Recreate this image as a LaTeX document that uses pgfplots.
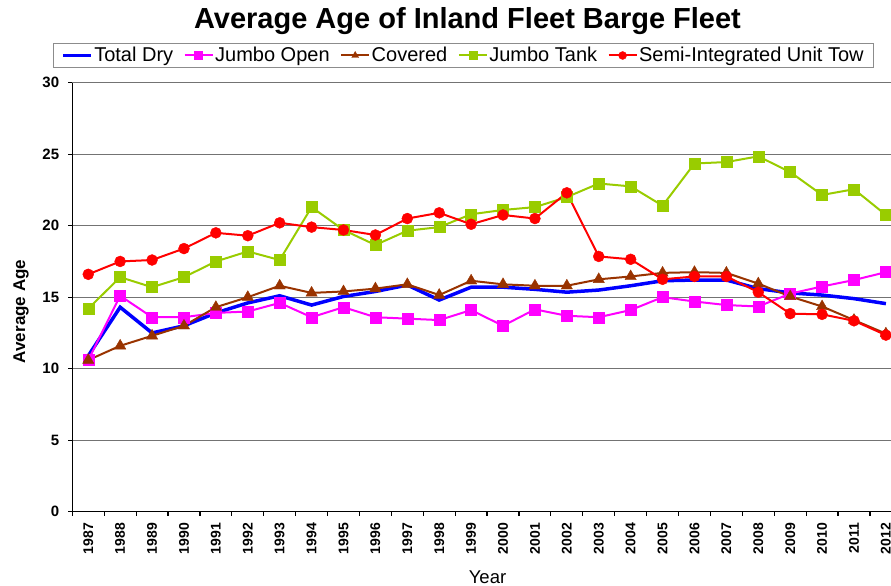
\documentclass[border=0pt]{standalone}
\usepackage{fontspec}
\setmainfont{Liberation Sans}
\usepackage{pgfplots}
\pgfplotsset{compat=1.18}
\definecolor{cblue}{RGB}{0,0,255}
\definecolor{cmag}{RGB}{255,0,255}
\definecolor{cbrown}{RGB}{153,51,0}
\definecolor{cgreen}{RGB}{153,204,0}
\definecolor{cred}{RGB}{255,0,0}
\begin{document}
\begin{tikzpicture}
\useasboundingbox (0,0) rectangle (891bp,586bp);
\begin{axis}[
  at={(72.3bp,74.3bp)}, anchor=south west,
  scale only axis, width=818.7bp, height=429bp,
  xmin=1986.5, xmax=2012.16, ymin=0, ymax=30,
  axis lines*=left,
  axis line style={black, line width=1.4bp},
  ytick={0,5,...,30},
  ymajorgrids, grid style={black!55, line width=1.3bp},
  xtick={1986.5,1987.5,...,2011.5},
  xticklabel=\empty,
  extra x ticks={1987,1988,...,2012},
  extra x tick labels={1987,1988,1989,1990,1991,1992,1993,1994,1995,1996,1997,1998,1999,2000,2001,2002,2003,2004,2005,2006,2007,2008,2009,2010,2011,2012},
  extra x tick style={major tick length=0pt, xticklabel shift=11bp, tick label style={font=\bfseries\fontsize{14bp}{14bp}\selectfont, rotate=90, anchor=east, inner sep=0pt}},
  tick align=outside, major tick length=4bp,
  tick style={black, line width=1.2bp},
  /pgf/number format/assume math mode=true,
  tick label style={font=\bfseries\fontsize{14bp}{14bp}\selectfont},
  yticklabel style={font=\bfseries\fontsize{15bp}{15bp}\selectfont, inner sep=0pt, xshift=-9bp},
  legend columns=5,
  legend style={at={(0.4775,1.0634)}, anchor=center, draw=black!45, line width=1bp,
    font=\fontsize{20bp}{24bp}\selectfont, inner xsep=8bp, inner ysep=2bp,
    nodes={inner xsep=1.5bp, inner ysep=2bp},
    /tikz/every even column/.append style={column sep=9bp}},
  legend image code/.code={\draw[mark repeat=2,mark phase=2,#1] plot coordinates {(0bp,0bp)(14bp,0bp)(28bp,0bp)};},
  legend image post style={mark size=4bp},
  clip=false,
]
\addplot[cblue, line width=3.5bp, no markers] coordinates {
(1987,10.9)(1988,14.3)(1989,12.5)(1990,13.0)(1991,13.9)(1992,14.6)(1993,15.1)(1994,14.45)(1995,15.05)(1996,15.4)(1997,15.85)(1998,14.8)(1999,15.7)(2000,15.7)(2001,15.55)(2002,15.35)(2003,15.5)(2004,15.8)(2005,16.15)(2006,16.2)(2007,16.2)(2008,15.6)(2009,15.3)(2010,15.15)(2011,14.9)(2012,14.55)};
\addlegendentry{Total Dry}
\addplot[cmag, line width=2bp, mark=square*, mark size=5.5bp, mark options={line width=0.4bp}] coordinates {
(1987,10.6)(1988,15.1)(1989,13.6)(1990,13.6)(1991,13.9)(1992,14.0)(1993,14.6)(1994,13.6)(1995,14.3)(1996,13.6)(1997,13.5)(1998,13.4)(1999,14.1)(2000,13.0)(2001,14.15)(2002,13.7)(2003,13.6)(2004,14.1)(2005,15.0)(2006,14.7)(2007,14.45)(2008,14.35)(2009,15.25)(2010,15.75)(2011,16.2)(2012,16.75)};
\addlegendentry{Jumbo Open}
\addplot[cbrown, line width=2bp, mark=triangle*, mark size=6.5bp, mark options={line width=0.4bp}] coordinates {
(1987,10.6)(1988,11.6)(1989,12.3)(1990,13.0)(1991,14.3)(1992,15.0)(1993,15.8)(1994,15.3)(1995,15.4)(1996,15.6)(1997,15.9)(1998,15.15)(1999,16.15)(2000,15.9)(2001,15.8)(2002,15.8)(2003,16.25)(2004,16.45)(2005,16.7)(2006,16.75)(2007,16.7)(2008,15.95)(2009,15.05)(2010,14.35)(2011,13.4)(2012,12.45)};
\addlegendentry{Covered}
\addplot[cgreen, line width=2bp, mark=square*, mark size=5.5bp, mark options={line width=0.4bp}] coordinates {
(1987,14.2)(1988,16.4)(1989,15.7)(1990,16.4)(1991,17.5)(1992,18.2)(1993,17.6)(1994,21.3)(1995,19.7)(1996,18.65)(1997,19.65)(1998,19.9)(1999,20.8)(2000,21.1)(2001,21.3)(2002,22.0)(2003,22.95)(2004,22.75)(2005,21.4)(2006,24.35)(2007,24.45)(2008,24.85)(2009,23.75)(2010,22.15)(2011,22.55)(2012,20.75)};
\addlegendentry{Jumbo Tank}
\addplot[cred, line width=2bp, mark=*, mark size=5.5bp, mark options={line width=0.4bp}] coordinates {
(1987,16.6)(1988,17.5)(1989,17.6)(1990,18.4)(1991,19.5)(1992,19.3)(1993,20.2)(1994,19.9)(1995,19.7)(1996,19.35)(1997,20.5)(1998,20.9)(1999,20.1)(2000,20.75)(2001,20.5)(2002,22.3)(2003,17.85)(2004,17.65)(2005,16.25)(2006,16.45)(2007,16.45)(2008,15.35)(2009,13.85)(2010,13.8)(2011,13.35)(2012,12.35)};
\addlegendentry{Semi-Integrated Unit Tow}
\end{axis}
\node[anchor=base, font=\bfseries\fontsize{29bp}{30bp}\selectfont] at (467.5bp,557.5bp) {Average Age of Inland Fleet Barge Fleet};
\node[anchor=base, rotate=90, font=\bfseries\fontsize{17bp}{17bp}\selectfont] at (25bp,274.5bp) {Average Age};
\node[anchor=base, font=\fontsize{18.5bp}{18.5bp}\selectfont] at (487.5bp,3bp) {Year};
\end{tikzpicture}
\end{document}
